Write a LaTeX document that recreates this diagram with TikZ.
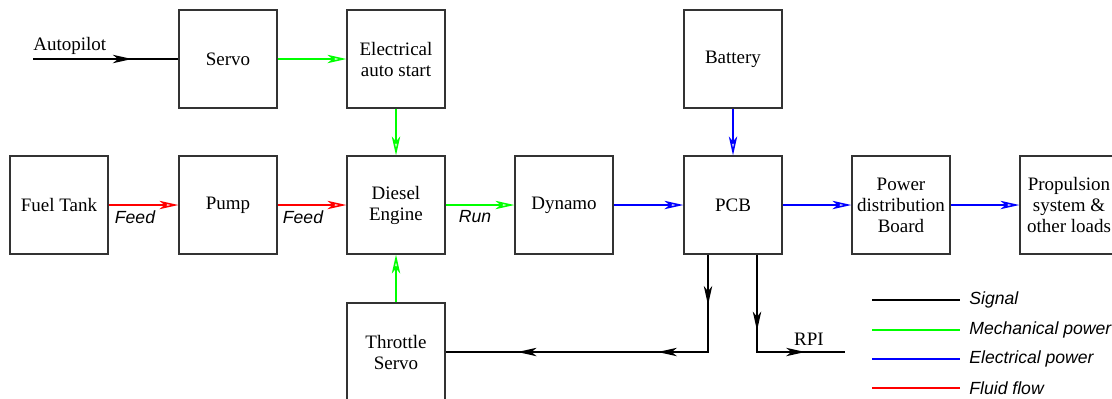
\documentclass[tikz,border=0pt]{standalone}
\usepackage{fontspec}
\setmainfont{Liberation Serif}
\setsansfont{Liberation Sans}
\usepackage{tikz}
\usetikzlibrary{positioning,arrows.meta,decorations.markings}
\definecolor{mechgreen}{HTML}{00FF00}
\definecolor{elecblue}{HTML}{0000FF}
\definecolor{fluidred}{HTML}{FF0000}

\begin{document}
\begin{tikzpicture}[x=0.5pt,y=-0.5pt,
  >={Stealth[length=9.5pt,width=4.2pt,inset=2.6pt,open]},
  blk/.style={draw=black!80,line width=0.6pt,minimum width=49pt,minimum height=49pt,inner sep=1pt,align=center,font=\fontsize{9.5}{10.5}\selectfont},
  sig/.style={black,line width=0.8pt},
  mech/.style={mechgreen,line width=0.8pt},
  elec/.style={elecblue,line width=0.8pt},
  fluid/.style={fluidred,line width=0.8pt},
  flow/.style={font=\sffamily\itshape\fontsize{8.8}{10}\selectfont,inner sep=1pt},
  lgd/.style={font=\sffamily\itshape\fontsize{8.8}{10}\selectfont,anchor=west,inner sep=0pt},
  midarr/.style={postaction={decorate,decoration={markings,mark=at position #1 with {\arrow{>}}}}}]
\useasboundingbox (0,0) rectangle (1112,398);
\clip (0,0) rectangle (1112,398);
\node[blk] (servo) at (228,59) {Servo};
\node[blk] (autostart) at (396,59) {Electrical\\auto start};
\node[blk] (battery) at (733,59) {Battery};
\node[blk] (tank) at (59,205) {Fuel Tank};
\node[blk] (pump) at (228,205) {Pump};
\node[blk] (engine) at (396,205) {Diesel\\Engine};
\node[blk] (dynamo) at (564,205) {Dynamo};
\node[blk] (pcb) at (733,205) {PCB};
\node[blk] (pdb) at (901,205) {Power\\distribution\\Board};
\node[blk] (loads) at (1069,205) {Propulsion\\system \&\\other loads};
\node[blk] (throttle) at (396,352) {Throttle\\Servo};
\coordinate (autopilot) at (33,59);
\node[font=\fontsize{9.5}{10.5}\selectfont,anchor=south west,inner sep=0pt] (aplbl) at (33,55) {Autopilot};
\draw[sig,midarr=0.68] (autopilot) -- (servo);
\draw[mech,->] (servo) -- (autostart);
\draw[mech,->] (autostart) -- (engine);
\draw[mech,->] (throttle) -- (engine);
\draw[fluid,->] (tank) -- (pump);
\node[flow] (feedA) at (135,217) {Feed};
\draw[fluid,->] (pump) -- (engine);
\node[flow] (feedB) at (303,217) {Feed};
\draw[mech,->] (engine) -- (dynamo);
\node[flow] (run) at (475,217) {Run};
\draw[elec,->] (dynamo) -- (pcb);
\draw[elec,->] (battery) -- (pcb);
\draw[elec,->] (pcb) -- (pdb);
\draw[elec,->] (pdb) -- (loads);
\draw[sig,midarr=0.14,midarr=0.41,midarr=0.80] ([xshift=-12.5pt]pcb.south) |- (throttle);
\coordinate (rpi) at (845,352);
\draw[sig,midarr=0.41,midarr=0.785] ([xshift=12pt]pcb.south) |- (rpi);
\node[font=\fontsize{9.5}{10.5}\selectfont,anchor=south,inner sep=1pt] (rpilbl) at (809,348) {RPI};
\draw[sig] (872,300) -- (960,300);
\node[lgd] (lgsig) at (969,300) {Signal};
\draw[mech] (872,330) -- (960,330);
\node[lgd] (lgmech) at (969,330) {Mechanical power};
\draw[elec] (872,359) -- (960,359);
\node[lgd] (lgelec) at (969,359) {Electrical power};
\draw[fluid] (872,388) -- (960,388);
\node[lgd] (lgfluid) at (969,388) {Fluid flow};
\end{tikzpicture}
\end{document}
